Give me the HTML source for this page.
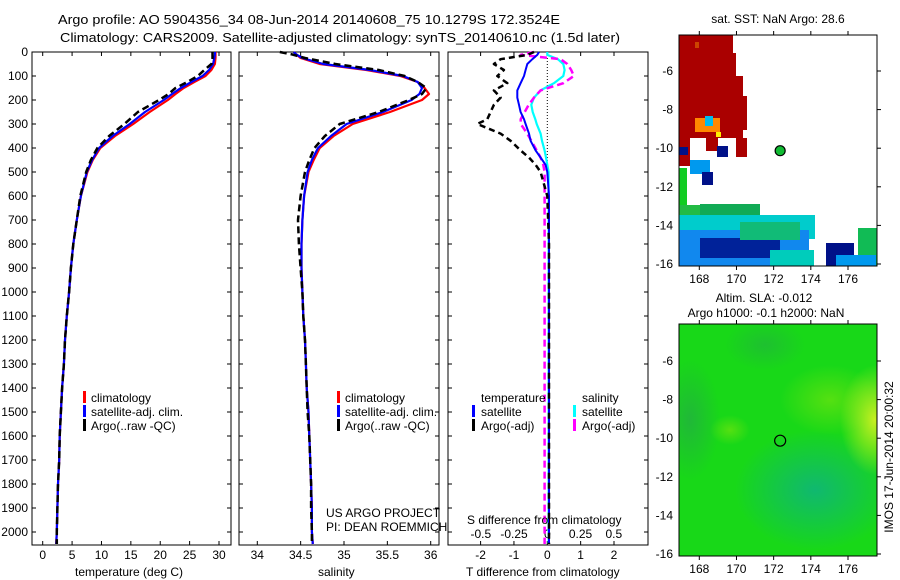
<!DOCTYPE html>
<html><head><meta charset="utf-8"><style>
html,body{margin:0;padding:0;background:#fff}
svg{display:block;font-family:"Liberation Sans",Arial,sans-serif}
</style></head><body>
<svg id="fig" width="900" height="580" viewBox="0 0 900 580" xmlns="http://www.w3.org/2000/svg">
<rect width="900" height="580" fill="#fff"/>
<text x="58" y="24" font-size="13" textLength="502" lengthAdjust="spacingAndGlyphs">Argo profile: AO 5904356_34 08-Jun-2014 20140608_75 10.1279S 172.3524E</text>
<text x="60" y="42" font-size="13" textLength="560" lengthAdjust="spacingAndGlyphs">Climatology: CARS2009. Satellite-adjusted climatology: synTS_20140610.nc (1.5d later)</text>
<g id="maps"></g>
<g id="plots"></g>
</svg>
<script>
// ---------- data ----------
const depths = [0,10,25,50,75,100,125,150,175,200,250,300,350,400,450,500,600,700,800,900,1000,1100,1200,1300,1400,1500,1600,1700,1800,1900,2000,2050];
const tempClim = [29.4,29.4,29.4,29.3,28.7,27.7,25.8,24.0,22.6,21.3,18.2,15.4,12.3,9.8,8.5,7.6,6.5,5.8,5.2,4.8,4.5,4.1,3.8,3.6,3.3,3.1,2.9,2.8,2.6,2.5,2.4,2.3];
const tempSat = [29.3,29.3,29.2,29.0,28.3,27.2,25.3,23.5,22.0,20.6,17.4,14.8,11.9,9.6,8.4,7.5,6.5,5.8,5.2,4.8,4.5,4.1,3.8,3.6,3.3,3.1,2.9,2.8,2.6,2.5,2.4,2.3];
const tempArgo = [28.9,28.9,28.9,28.7,27.5,26.4,24.6,22.6,21.4,19.8,16.2,13.9,11.3,9.3,8.2,7.4,6.4,5.8,5.2,4.8,4.5,4.1,3.8,3.6,3.3,3.1,2.9,2.8,2.6,2.5,2.4,2.4];
const salClim = [34.42,34.45,34.5,34.72,35.26,35.65,35.85,35.93,35.98,35.9,35.53,35.1,34.88,34.72,34.65,34.59,34.54,34.52,34.51,34.51,34.52,34.53,34.55,34.56,34.57,34.59,34.6,34.61,34.62,34.63,34.63,34.64];
const salSat = [34.42,34.45,34.52,34.76,35.3,35.68,35.85,35.9,35.87,35.78,35.45,35.03,34.85,34.7,34.63,34.58,34.54,34.52,34.51,34.51,34.52,34.53,34.55,34.56,34.57,34.59,34.6,34.61,34.62,34.63,34.63,34.64];
const salArgo = [34.26,34.4,34.55,34.9,35.4,35.7,35.85,35.95,35.9,35.75,35.4,34.95,34.78,34.66,34.6,34.55,34.5,34.47,34.48,34.5,34.52,34.53,34.55,34.56,34.57,34.58,34.6,34.61,34.62,34.62,34.63,34.63];
const diffDepths = [0,12,30,50,75,100,130,160,190,220,250,280,300,340,370,410,440,470,500,600,800,1000,1500,2000,2050];
const tDiffSat = [-0.25,-0.3,-0.45,-0.6,-0.65,-0.7,-0.8,-0.9,-0.9,-0.85,-0.8,-0.7,-0.65,-0.55,-0.5,-0.35,-0.2,-0.05,0,0.05,0.05,0.05,0.05,0.05,0.05];
const tDiffArgo = [-0.4,-0.6,-1.4,-1.6,-1.3,-1.5,-1.2,-1.6,-1.4,-1.6,-1.7,-1.8,-2.1,-1.4,-1.1,-0.8,-0.55,-0.35,-0.2,0,0.05,0.05,0.05,0.05,0.05];
const sDiffSat = [0,0,0.08,0.12,0.13,0.12,0.05,-0.05,-0.1,-0.12,-0.11,-0.09,-0.08,-0.05,-0.04,-0.02,-0.01,0,0.01,0.01,0.01,0.01,0.01,0.01,0.01];
const sDiffArgo = [-0.1,-0.2,0.1,0.15,0.18,0.2,0.12,-0.05,-0.1,-0.14,-0.17,-0.2,-0.2,-0.15,-0.12,-0.08,-0.05,-0.03,-0.02,-0.02,-0.02,-0.02,-0.02,-0.02,-0.02];
const depthTicks = [0,100,200,300,400,500,600,700,800,900,1000,1100,1200,1300,1400,1500,1600,1700,1800,1900,2000];
const tempTicks = [0,5,10,15,20,25,30];
const salTicks = [34,34.5,35,35.5,36];
const tDiffTicks = [-2,-1,0,1,2];
const sDiffTicks = [-0.5,-0.25,0,0.25,0.5];
const lonTicks = [168,170,172,174,176];
const latTicks = [-6,-8,-10,-12,-14,-16];

const NS="http://www.w3.org/2000/svg";
function mk(tag, attrs, parent){const e=document.createElementNS(NS,tag);for(const k in attrs)e.setAttribute(k,attrs[k]);parent.appendChild(e);return e;}
const plots=document.getElementById('plots');
const maps=document.getElementById('maps');
const Y0=52, YB=545;
function yD(d){return Y0+d*0.24;}
function lin(v0,p0,v1,p1){return v=>p0+(v-v0)*(p1-p0)/(v1-v0);}
const xT=lin(0,42.7,30,219);
const xS=lin(34,257.3,36,430.7);
const xTd=lin(0,547.3,2,614);
const xSd=lin(0,547.3,0.5,613.8);

function frame(x0,x1,name){
  const r=mk('rect',{x:x0,y:Y0,width:x1-x0,height:YB-Y0,fill:'none',stroke:'#000','stroke-width':1},plots);
  
  
  depthTicks.forEach(d=>{
    mk('line',{x1:x0,x2:x0+4,y1:yD(d),y2:yD(d),stroke:'#000'},plots);
    mk('line',{x1:x1,x2:x1-4,y1:yD(d),y2:yD(d),stroke:'#000'},plots);
  });
}
function xticks(ticks,fx,name,yLab){
  ticks.forEach(t=>{
    const x=fx(t);
    mk('line',{x1:x,x2:x,y1:YB,y2:YB-4,stroke:'#000'},plots);
    mk('line',{x1:x,x2:x,y1:Y0,y2:Y0+4,stroke:'#000'},plots);
    const tx=mk('text',{x:x,y:yLab,'font-size':12,'text-anchor':'middle'},plots);
    tx.textContent=String(t).replace(/^0\./,'0.').replace('-0.','-0.');
    
    
  });
}
function line(xs,ds,fx,color,w,dash,name){
  const pts=xs.map((v,i)=>fx(v).toFixed(1)+','+yD(ds[i]).toFixed(1)).join(' ');
  const p=mk('polyline',{points:pts,fill:'none',stroke:color,'stroke-width':w,'stroke-linejoin':'round'},plots);
  if(dash)p.setAttribute('stroke-dasharray',dash);
  
  
}
function label(x,y,txt,name,anchor,size){
  const t=mk('text',{x:x,y:y,'font-size':size||12,'text-anchor':anchor||'start'},plots);
  t.textContent=txt;
  
  
  return t;
}
function legendBar(x,y,color,name){
  const r=mk('rect',{x:x,y:y-10,width:3,height:12,fill:color},plots);
  
  
}

// panel 1: temperature
frame(32,231,'temperature-panel');
depthTicks.forEach(d=>{label(28,yD(d)+4,String(d),'depth-tick-label','end',12);});
xticks(tempTicks,xT,'temperature',559);
line(tempClim,depths,xT,'#ff0000',2.2,null,'temperature-climatology-line');
line(tempSat,depths,xT,'#0000ff',2.2,null,'temperature-satellite-line');
line(tempArgo,depths,xT,'#000',2.5,'7,4','temperature-argo-line');
label(75,576,'temperature (deg C)','temperature-axis-title');
legendBar(83,401,'#ff0000','legend-climatology-swatch');label(91,402,'climatology','legend-climatology');
legendBar(83,415,'#0000ff','legend-satellite-swatch');label(91,416,'satellite-adj. clim.','legend-satellite');
legendBar(83,429,'#000','legend-argo-swatch');label(91,430,'Argo(..raw -QC)','legend-argo');

// panel 2: salinity
frame(239,439,'salinity-panel');
xticks(salTicks,xS,'salinity',559);
line(salClim,depths,xS,'#ff0000',2.2,null,'salinity-climatology-line');
line(salSat,depths,xS,'#0000ff',2.2,null,'salinity-satellite-line');
line(salArgo,depths,xS,'#000',2.5,'7,4','salinity-argo-line');
label(318,576,'salinity','salinity-axis-title');
legendBar(337,401,'#ff0000','legend2-climatology-swatch');label(345,402,'climatology','legend2-climatology');
legendBar(337,415,'#0000ff','legend2-satellite-swatch');label(345,416,'satellite-adj. clim.','legend2-satellite');
legendBar(337,429,'#000','legend2-argo-swatch');label(345,430,'Argo(..raw -QC)','legend2-argo');
label(326,517,'US ARGO PROJECT','project-credit');
label(326,531,'PI: DEAN ROEMMICH','pi-credit');

// panel 3: differences
frame(448,648,'difference-panel');
mk('line',{x1:xTd(0),x2:xTd(0),y1:Y0,y2:yD(520),stroke:'#000','stroke-dasharray':'1,2'},plots);
xticks(tDiffTicks,xTd,'t-difference',559);
sDiffTicks.forEach(t=>{label(xSd(t),538,String(t).replace('0.5','0.5'),'s-difference-tick-label','middle',12);});
line(sDiffSat,diffDepths,xSd,'#00ffff',2.2,null,'salinity-diff-satellite-line');
line(sDiffArgo,diffDepths,xSd,'#ff00ff',2.5,'7,4','salinity-diff-argo-line');
line(tDiffSat,diffDepths,xTd,'#0000ff',2,null,'temperature-diff-satellite-line');
line(tDiffArgo,diffDepths,xTd,'#000',2.5,'6,4','temperature-diff-argo-line');
label(467,524,'S difference from climatology','s-difference-axis-title');
label(466,576,'T difference from climatology','t-difference-axis-title');
label(481,402,'temperature','legend3-temperature-header');
legendBar(472,415,'#0000ff','legend3-t-satellite-swatch');label(481,416,'satellite','legend3-t-satellite');
legendBar(472,429,'#000','legend3-t-argo-swatch');label(481,430,'Argo(-adj)','legend3-t-argo');
label(582,402,'salinity','legend3-salinity-header');
legendBar(573,415,'#00ffff','legend3-s-satellite-swatch');label(582,416,'satellite','legend3-s-satellite');
legendBar(573,429,'#ff00ff','legend3-s-argo-swatch');label(582,430,'Argo(-adj)','legend3-s-argo');

// ---------- maps ----------
const MX0=679,MX1=877;
const xLon=lin(168,699.3,176,848);
function mapAxes(y0,y1,fy,name,labelsBelow){
  const r=mk('rect',{x:MX0,y:y0,width:MX1-MX0,height:y1-y0,fill:'none',stroke:'#000'},maps);
  
  
  lonTicks.forEach(l=>{
    const x=xLon(l);
    mk('line',{x1:x,x2:x,y1:y0-4,y2:y0,stroke:'#000'},maps);
    mk('line',{x1:x,x2:x,y1:y1,y2:y1+4,stroke:'#000'},maps);
    const t=mk('text',{x:x,y:y1+17,'font-size':12,'text-anchor':'middle'},maps);
    t.textContent=String(l);
    
    
  });
  latTicks.forEach(l=>{
    const y=fy(l);
    mk('line',{x1:MX1,x2:MX1+4,y1:y,y2:y,stroke:'#000'},maps);
    const t=mk('text',{x:MX0-6,y:y+4,'font-size':12,'text-anchor':'end'},maps);
    t.textContent=String(l).replace('-','-');
    
    
  });
}
// map 1 (SST)
const yLat1=lin(-6,71,-16,264);
const sstBlocks=[
 [679,35,54,103,'#aa0000'],[733,53,3,23,'#aa0000'],[700,76,43,62,'#aa0000'],[743,96,4,34,'#aa0000'],
 [679,138,11,28,'#aa0000'],[736,138,11,19,'#aa0000'],[706,138,12,13,'#aa0000'],
 [695,42,4,6,'#cc4400'],[695,118,25,14,'#ff8800'],[705,116,8,10,'#00bbee'],[716,132,5,5,'#ffee00'],
 [717,146,11,11,'#001188'],[679,147,9,8,'#001188'],[690,160,20,14,'#0099ee'],[702,172,11,13,'#001188'],
 [679,168,8,38,'#11cc22'],[679,205,30,14,'#22bb44'],[700,204,60,14,'#11aa55'],
 [679,215,136,24,'#00cccc'],[679,230,130,36,'#1188ee'],[700,238,80,20,'#002299'],[740,222,60,18,'#11bb77'],
 [770,250,44,16,'#00ccbb'],[826,243,28,23,'#001188'],[858,228,19,38,'#11bb55'],[836,255,40,11,'#0099ee']
];
const clip1=mk('clipPath',{id:'c1'},maps);mk('rect',{x:MX0,y:35,width:MX1-MX0,height:231},clip1);
const g1=mk('g',{'clip-path':'url(#c1)'},maps);


sstBlocks.forEach(b=>mk('rect',{x:b[0],y:b[1],width:b[2],height:b[3],fill:b[4]},g1));
const dot1=mk('circle',{cx:xLon(172.35),cy:yLat1(-10.13),r:5,fill:'#11bb33',stroke:'#000','stroke-width':1.2},maps);


mapAxes(35,266,yLat1,'sst-map-frame');
const st=mk('text',{x:778,y:23,'font-size':12,'text-anchor':'middle'},maps);st.textContent='sat. SST: NaN Argo: 28.6';


// map 2 (SLA)
const yLat2=lin(-6,361,-16,554);
const defs=mk('defs',{},maps);
function rg(id,c){const g=mk('radialGradient',{id:id},defs);mk('stop',{offset:'0','stop-color':c,'stop-opacity':1},g);mk('stop',{offset:'1','stop-color':c,'stop-opacity':0},g);}
rg('gTeal','#10b870');rg('gYel','#c8f020');rg('gLite','#55e011');rg('gDark','#22b040');
const clip2=mk('clipPath',{id:'c2'},maps);mk('rect',{x:MX0,y:324,width:MX1-MX0,height:232},clip2);
const g2=mk('g',{'clip-path':'url(#c2)'},maps);


mk('rect',{x:MX0,y:324,width:198,height:232,fill:'#18d818'},g2);
mk('ellipse',{cx:815,cy:490,rx:80,ry:60,fill:'url(#gTeal)'},g2);
mk('ellipse',{cx:765,cy:345,rx:40,ry:25,fill:'url(#gDark)',opacity:0.6},g2);
mk('ellipse',{cx:690,cy:420,rx:30,ry:60,fill:'url(#gDark)',opacity:0.8},g2);
mk('ellipse',{cx:830,cy:400,rx:50,ry:35,fill:'url(#gLite)'},g2);
mk('ellipse',{cx:875,cy:420,rx:35,ry:55,fill:'url(#gYel)'},g2);
mk('ellipse',{cx:730,cy:430,rx:20,ry:15,fill:'url(#gLite)'},g2);
const dot2=mk('circle',{cx:xLon(172.35),cy:yLat2(-10.13),r:5.5,fill:'none',stroke:'#000','stroke-width':1.2},maps);


mapAxes(324,556,yLat2,'sla-map-frame');
const a1=mk('text',{x:764,y:302,'font-size':12,'text-anchor':'middle'},maps);a1.textContent='Altim. SLA: -0.012';

const a2=mk('text',{x:766,y:317,'font-size':12,'text-anchor':'middle'},maps);a2.textContent='Argo h1000: -0.1 h2000: NaN';

const im=mk('text',{x:0,y:0,'font-size':12,'text-anchor':'middle',transform:'translate(893,457) rotate(-90)'},maps);im.textContent='IMOS 17-Jun-2014 20:00:32';

</script>
</body></html>
